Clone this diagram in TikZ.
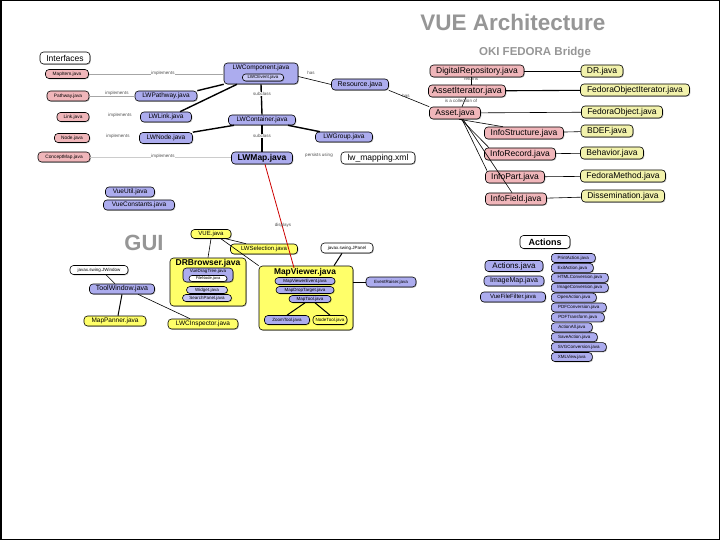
\documentclass[tikz,border=0pt]{standalone}
\usepackage{fontspec}
\setmainfont{Liberation Sans}
\usetikzlibrary{shadows}
\definecolor{pinkf}{RGB}{240,182,186}
\definecolor{bluef}{RGB}{172,172,238}
\definecolor{bluel}{RGB}{200,200,245}
\definecolor{yelb}{RGB}{255,255,105}
\definecolor{yelp}{RGB}{242,242,172}
\definecolor{titleg}{RGB}{150,150,150}
\tikzset{
  box/.style={draw=black, line width=0.6pt, rounded corners=3.5pt, inner sep=0.5pt, align=center,
    drop shadow={shadow xshift=0.8pt, shadow yshift=-0.8pt, opacity=0.25, fill=black}},
  pk/.style={box, fill=pinkf},
  bl/.style={box, fill=bluef},
  bll/.style={box, fill=bluel},
  yb/.style={box, fill=yelb},
  yp/.style={box, fill=yelp},
  wh/.style={box, fill=white},
  fs/.style={font=\fontsize{#1}{#1}\selectfont},
  fsb/.style={font=\fontsize{#1}{#1}\selectfont\bfseries},
  lbl/.style={font=\fontsize{4.5}{5}\selectfont, text=black!70, inner sep=0.5pt},
  lblw/.style={lbl, fill=white},
  heavy/.style={line width=1.4pt},
  lite/.style={line width=0.6pt},
  faint/.style={line width=0.6pt, draw=black!35},
  act/.style={bl, fs=4.5, minimum height=9pt, anchor=west}
}
\begin{document}
\begin{tikzpicture}[x=1pt,y=-1pt]
\useasboundingbox (0,0) rectangle (720,540);
\draw[line width=1.5pt] (0.75,0.75) rectangle (719.25,539.25);

% titles
\node[text=titleg, fsb=22.5] (title) at (513,22) {VUE Architecture};
\node[text=titleg, fsb=11.5] (okititle) at (535,53) {OKI FEDORA Bridge};
\node[text=titleg, fsb=22] (guititle) at (144,243) {GUI};

% interfaces
\node[wh, fs=8.5, minimum width=50pt, minimum height=12pt] (interfaces) at (65,58) {Interfaces};
\node[pk, fs=4.8, minimum width=43pt, minimum height=9pt] (mapitem) at (67,74) {MapItem.java};
\node[pk, fs=4.8, minimum width=42pt, minimum height=10pt] (pathway) at (68,96) {Pathway.java};
\node[pk, fs=4.8, minimum width=32pt, minimum height=9pt] (linkj) at (73,117) {Link.java};
\node[pk, fs=4.8, minimum width=35pt, minimum height=9pt] (nodej) at (72,138) {Node.java};
\node[pk, fs=4.8, minimum width=52pt, minimum height=10pt] (conceptmap) at (64,157) {ConceptMap.java};

% LW hierarchy
\node[bl, minimum width=74pt, minimum height=21pt] (lwcomponent) at (261,73.5) {};
\node[fs=6.5, inner sep=0pt] (lwctitle) at (261,68) {LWComponent.java};
\node[bll, fs=4.5, minimum width=41pt, minimum height=7pt, rounded corners=3pt] (lwcevent) at (263,77.5) {LWCEvent.java};
\node[bl, fs=6.5, minimum width=62pt, minimum height=10pt] (lwpathway) at (166,96) {LWPathway.java};
\node[bl, fs=6.5, minimum width=51pt, minimum height=10pt] (lwlink) at (166,117) {LWLink.java};
\node[bl, fs=6.5, minimum width=53pt, minimum height=11pt] (lwnode) at (166,138) {LWNode.java};
\node[bl, fs=6.5, minimum width=67pt, minimum height=10pt] (lwcontainer) at (262,120) {LWContainer.java};
\node[bl, fs=6.5, minimum width=57pt, minimum height=10pt] (lwgroup) at (344,137) {LWGroup.java};
\node[bl, fsb=8.5, minimum width=61pt, minimum height=12pt] (lwmap) at (262,158) {LWMap.java};
\node[wh, fs=8.5, minimum width=74pt, minimum height=12pt] (lwmapping) at (378,158) {lw\_mapping.xml};
\node[bl, fs=7, minimum width=57pt, minimum height=11pt] (resource) at (360,84.5) {Resource.java};
\node[bl, fs=6.5, minimum width=49pt, minimum height=10pt] (vueutil) at (130,192) {VueUtil.java};
\node[bl, fs=6.5, minimum width=71pt, minimum height=10pt] (vueconst) at (139,205) {VueConstants.java};

% OKI FEDORA
\node[pk, fs=8.5, minimum width=94pt, minimum height=12pt] (digrep) at (477,71) {DigitalRepository.java};
\node[pk, fs=9, minimum width=77pt, minimum height=12pt] (assetit) at (467,91) {AssetIterator.java};
\node[pk, fs=8.5, minimum width=51pt, minimum height=12pt] (asset) at (455,113) {Asset.java};
\node[pk, fs=8.5, minimum width=79pt, minimum height=12pt] (infostruct) at (524,133) {InfoStructure.java};
\node[pk, fs=8.5, minimum width=71pt, minimum height=12pt] (inforecord) at (520,154) {InfoRecord.java};
\node[pk, fs=8.5, minimum width=59pt, minimum height=12pt] (infopart) at (515,177) {InfoPart.java};
\node[pk, fs=8.5, minimum width=61pt, minimum height=12pt] (infofield) at (516,199) {InfoField.java};
\node[yp, fs=8.5, minimum width=42pt, minimum height=12pt] (drj) at (602,71) {DR.java};
\node[yp, fs=8.5, minimum width=109pt, minimum height=12pt] (fobjit) at (635,90) {FedoraObjectIterator.java};
\node[yp, fs=8.5, minimum width=81pt, minimum height=12pt] (fobj) at (622,112) {FedoraObject.java};
\node[yp, fs=8.5, minimum width=52pt, minimum height=12pt] (bdef) at (607,131) {BDEF.java};
\node[yp, fs=8.5, minimum width=63pt, minimum height=12pt] (behavior) at (612,153) {Behavior.java};
\node[yp, fs=8.5, minimum width=85pt, minimum height=12pt] (fmethod) at (623,176) {FedoraMethod.java};
\node[yp, fs=8.5, minimum width=83pt, minimum height=12pt] (dissem) at (623,196) {Dissemination.java};

% GUI
\node[yb, fs=6, minimum width=40pt, minimum height=9pt] (vuej) at (211,234) {VUE.java};
\node[yb, fs=6, minimum width=67pt, minimum height=10pt] (lwselection) at (264,249) {LWSelection.java};
\node[yb, minimum width=76pt, minimum height=48pt] (drbrowser) at (208,282) {};
\node[fsb=8.5, inner sep=0pt] (drtitle) at (208,263) {DRBrowser.java};
\node[bl, minimum width=50pt, minimum height=14pt] (vuedragtree) at (208,275) {};
\node[fs=4.5, inner sep=0pt] (vdttitle) at (208,271) {VueDragTree.java};
\node[wh, fs=4, minimum width=38pt, minimum height=6pt, rounded corners=3pt] (filenode) at (208,278.5) {FileNode.java};
\node[bll, fs=4.5, minimum width=41pt, minimum height=7pt] (widget) at (207,290) {Widget.java};
\node[bll, fs=4.5, minimum width=49pt, minimum height=7pt] (searchpanel) at (207,298) {SearchPanel.java};

\node[yb, minimum width=94pt, minimum height=64pt] (mapviewer) at (306,298) {};
\node[fsb=8.4, inner sep=0pt] (mvtitle) at (305,272) {MapViewer.java};
\node[bl, fs=4.5, minimum width=60pt, minimum height=7pt] (mvevent) at (305,281) {MapViewerEvent.java};
\node[bl, fs=4.5, minimum width=58pt, minimum height=7pt] (mdroptarget) at (305,290) {MapDropTarget.java};
\node[bl, fs=4.5, minimum width=42pt, minimum height=7pt] (maptool) at (310,299) {MapTool.java};
\node[bl, fs=4.5, minimum width=45pt, minimum height=9pt] (zoomtool) at (287,320) {ZoomTool.java};
\node[yb, fs=4.5, minimum width=34pt, minimum height=9pt] (nodetool) at (330,320) {NodeTool.java};
\node[wh, fs=4.5, minimum width=52pt, minimum height=10pt] (jpanel) at (347,248) {javax.swing.JPanel};
\node[bl, fs=4.5, minimum width=50pt, minimum height=10pt] (eventraiser) at (391,282) {EventRaiser.java};

\node[wh, fs=4.5, minimum width=58pt, minimum height=9pt] (jwindow) at (99,270) {javax.swing.JWindow};
\node[bl, fs=7, minimum width=65pt, minimum height=10pt] (toolwindow) at (122,289) {ToolWindow.java};
\node[yb, fs=6.5, minimum width=62pt, minimum height=10pt] (mappanner) at (115,321) {MapPanner.java};
\node[yb, fs=6.5, minimum width=70pt, minimum height=10pt] (lwcinspector) at (203,324) {LWCInspector.java};

% Actions
\node[wh, fsb=9, minimum width=50pt, minimum height=13pt] (actionstitle) at (545,242) {Actions};
\node[bl, fs=8, minimum width=58pt, minimum height=11pt] (actionsj) at (514,266) {Actions.java};
\node[bl, fs=7, minimum width=60pt, minimum height=10pt] (imagemap) at (514,281) {ImageMap.java};
\node[bl, fs=6, minimum width=65pt, minimum height=10pt] (vueff) at (513,297) {VueFileFilter.java};
\node[act, minimum width=44pt] (printact) at (551,258) {PrintAction.java};
\node[act, minimum width=42pt] (exitact) at (551,267.9) {ExitAction.java};
\node[act, minimum width=57pt] (htmlconv) at (551,277.8) {HTMLConversion.java};
\node[act, minimum width=57pt] (imageconv) at (551,287.7) {ImageConversion.java};
\node[act, minimum width=45pt] (openact) at (551,297.6) {OpenAction.java};
\node[act, minimum width=55pt] (pdfconv) at (551,307.5) {PDFConversion.java};
\node[act, minimum width=53pt] (pdftrans) at (551,317.4) {PDFTransform.java};
\node[act, minimum width=41pt] (actall) at (551,327.3) {ActionAll.java};
\node[act, minimum width=46pt] (saveact) at (551,337.2) {SaveAction.java};
\node[act, minimum width=55pt] (svgconv) at (551,347.1) {SVGConversion.java};
\node[act, minimum width=41pt] (xmlview) at (551,357) {XMLView.java};

% connectors: interfaces
\draw[faint] (mapitem) -- (lwcomponent.west |- mapitem);
\draw[faint] (pathway) -- (lwpathway);
\draw[faint, draw=black!20] (conceptmap) -- (lwmap.west |- conceptmap);
\node[lblw] (l1) at (163,73.5) {implements};
\node[lbl] (l2) at (117,93.5) {implements};
\node[lbl] (l3) at (120,115) {implements};
\node[lbl] (l4) at (118,136.5) {implements};
\node[lblw] (l5) at (163,156) {implements};

% LW hierarchy connectors
\draw[heavy] (lwpathway.north east) -- (lwcomponent.south west);
\draw[heavy] ([xshift=14pt]lwlink.north) -- ([xshift=-24pt]lwcomponent.south);
\draw[heavy] (lwcomponent.south) -- (lwcontainer.north);
\draw[heavy] (lwnode.north east) -- ([xshift=-28pt]lwcontainer.south);
\draw[heavy] ([xshift=26pt]lwcontainer.south) -- ([xshift=-24pt]lwgroup.north);
\draw[heavy] (lwcontainer.south) -- (lwmap.north);
\node[lblw] (l6) at (262,94) {subclass};
\node[lblw] (l7) at (262,136) {subclass};
\node[lbl] (l8) at (319,155) {persists using};
\draw[lite] ([yshift=-3pt]lwcomponent.east) -- (resource.west);
\node[lbl] (l9) at (311,73) {has};
\draw[lite] (resource.south east) -- (asset.north west);
\node[lbl] (l10) at (406,96) {has};
\draw[line width=0.8pt, draw=red!80!black] ([xshift=3pt]lwmap.south) -- (mvtitle.north -| 294,0);
\node[lbl] (l11) at (283,225) {displays};

% OKI connectors
\draw[lite] (digrep) -- (drj);
\draw[line width=1.1pt] (assetit) -- (fobjit);
\draw[lite] (asset) -- (fobj);
\draw[lite] (infostruct) -- (bdef);
\draw[lite] (inforecord) -- (behavior);
\draw[lite] (infopart) -- (fmethod);
\draw[lite] (infofield) -- (dissem);
\draw[lite] ([xshift=-6pt]digrep.south) -- ([xshift=4pt]assetit.north);
\draw[lite] ([xshift=-1pt]assetit.south) -- ([xshift=7pt]asset.north);
\node[lbl] (l12) at (471,79.5) {returns};
\node[lbl] (l13) at (461,100.5) {is a collection of};
\draw[lite] ([xshift=4pt]asset.south) -- ([xshift=-21pt]infostruct.north);
\draw[lite] ([xshift=6pt]asset.south) -- ([xshift=-31pt]inforecord.north);
\draw[lite] ([xshift=7pt]asset.south) -- ([xshift=-28pt]infopart.north);
\draw[lite] ([xshift=8pt]asset.south) -- ([xshift=-4pt]infofield.north);

% GUI connectors
\draw[lite] (vuej.south) -- (drbrowser.north);
\draw[lite] ([xshift=15pt]vuej.south) -- ([xshift=-18pt]lwselection.north);
\draw[lite] ([xshift=10pt]vuej.south) -- (mapviewer.north west);
\draw[line width=1pt] ([xshift=-5pt]jpanel.south) -- ([xshift=28pt]mapviewer.north);
\draw[lite] (eventraiser.west) -- (mapviewer.east |- eventraiser.west);
\draw[line width=1pt] ([xshift=-5pt]maptool.south) -- (zoomtool.north);
\draw[line width=1pt] ([xshift=5pt]maptool.south) -- (nodetool.north);
\draw[lite] ([xshift=7pt]jwindow.south) -- ([xshift=-7pt]toolwindow.north);
\draw[line width=1pt] (toolwindow.south) -- ([xshift=3pt]mappanner.north);
\draw[lite] ([xshift=16pt]toolwindow.south) -- ([xshift=-13pt]lwcinspector.north);
\end{tikzpicture}
\end{document}
